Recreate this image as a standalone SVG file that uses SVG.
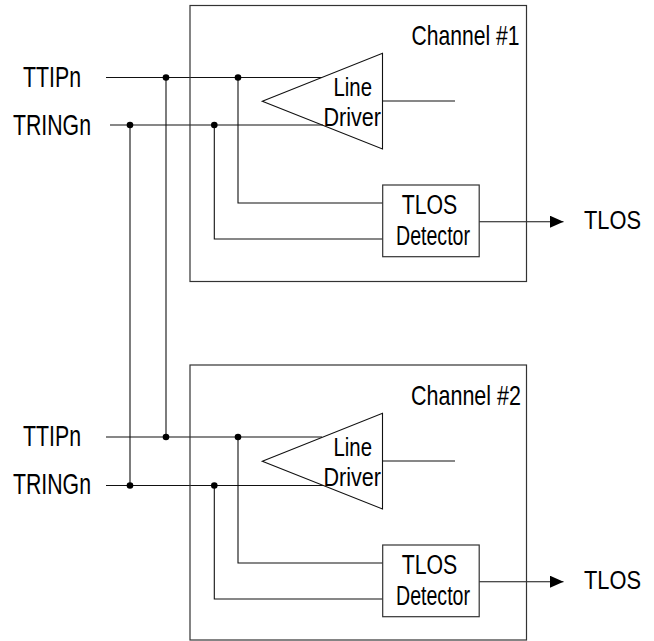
<svg xmlns="http://www.w3.org/2000/svg" width="654" height="641" viewBox="0 0 654 641">
<defs>
<style>
.box{fill:none;stroke:#333;stroke-width:1.2}
.drv{fill:none;stroke:#111;stroke-width:1.1}
.det{fill:#fff;stroke:#333;stroke-width:1.2}
.w{fill:none;stroke:#111;stroke-width:1.1}
.dot{fill:#000}
.t{font-family:"Liberation Sans",Arial,sans-serif;fill:#000}
</style>
<marker id="arr" markerUnits="userSpaceOnUse" markerWidth="14" markerHeight="12" refX="13.5" refY="6" orient="auto">
<path d="M0,0 L13.5,6 L0,12 z" fill="#000"/>
</marker>
</defs>
<rect width="654" height="641" fill="#fff"/>

<g id="connectors">
<path class="w" d="M106,77.5 H322"/>
<path class="w" d="M110,125 H323"/>
<path class="w" d="M238,77.5 V203 H383"/>
<path class="w" d="M214.3,125 V239 H383"/>
<path class="w" d="M382.5,101 H455"/>
<path class="w" d="M479,221.7 H563.5" marker-end="url(#arr)"/>
<path class="w" d="M106,437 H322"/>
<path class="w" d="M106,485.5 H323"/>
<path class="w" d="M238,437 V563 H383"/>
<path class="w" d="M214.3,485.5 V599 H383"/>
<path class="w" d="M382.5,461 H455"/>
<path class="w" d="M479,581.7 H563.5" marker-end="url(#arr)"/>
<path class="w" d="M166,77.5 V437"/>
<path class="w" d="M130,125 V485.5"/>
<circle class="dot" cx="166" cy="77.5" r="3.3"/>
<circle class="dot" cx="238" cy="77.5" r="3.3"/>
<circle class="dot" cx="130" cy="125" r="3.3"/>
<circle class="dot" cx="214.3" cy="125" r="3.3"/>
<circle class="dot" cx="166" cy="437" r="3.3"/>
<circle class="dot" cx="238" cy="437" r="3.3"/>
<circle class="dot" cx="130" cy="485.5" r="3.3"/>
<circle class="dot" cx="214.3" cy="485.5" r="3.3"/>
</g>

<g id="channel1">
<rect class="box" x="190" y="5.5" width="336.5" height="276"/>
<text class="t" x="411.5" y="45" font-size="28" textLength="108" lengthAdjust="spacingAndGlyphs">Channel #1</text>
</g>
<g id="driver1">
<polygon class="drv" points="262.3,101.3 382.5,53.3 382.5,149"/>
<text class="t" x="333.5" y="95.5" font-size="26" textLength="38.5" lengthAdjust="spacingAndGlyphs">Line</text>
<text class="t" x="323.5" y="126" font-size="26" textLength="57.5" lengthAdjust="spacingAndGlyphs">Driver</text>
</g>
<g id="detector1">
<rect class="det" x="382.7" y="185" width="96.5" height="71.7"/>
<text class="t" x="401.7" y="214.3" font-size="27" textLength="55.6" lengthAdjust="spacingAndGlyphs">TLOS</text>
<text class="t" x="396" y="245" font-size="27" textLength="74" lengthAdjust="spacingAndGlyphs">Detector</text>
</g>

<g id="channel2">
<rect class="box" x="190" y="365" width="336.5" height="275"/>
<text class="t" x="411" y="405" font-size="28" textLength="110" lengthAdjust="spacingAndGlyphs">Channel #2</text>
</g>
<g id="driver2">
<polygon class="drv" points="262.3,461.3 382.5,413.3 382.5,509"/>
<text class="t" x="333.5" y="455.5" font-size="26" textLength="38.5" lengthAdjust="spacingAndGlyphs">Line</text>
<text class="t" x="323.5" y="486" font-size="26" textLength="57.5" lengthAdjust="spacingAndGlyphs">Driver</text>
</g>
<g id="detector2">
<rect class="det" x="382.7" y="545" width="96.5" height="71.7"/>
<text class="t" x="401.7" y="574.3" font-size="27" textLength="55.6" lengthAdjust="spacingAndGlyphs">TLOS</text>
<text class="t" x="396" y="605" font-size="27" textLength="74" lengthAdjust="spacingAndGlyphs">Detector</text>
</g>

<g id="pin-ttip1"><text class="t" x="23" y="87" font-size="29" textLength="58" lengthAdjust="spacingAndGlyphs">TTIPn</text></g>
<g id="pin-tring1"><text class="t" x="13" y="134.5" font-size="29" textLength="78" lengthAdjust="spacingAndGlyphs">TRINGn</text></g>
<g id="pin-tlos1"><text class="t" x="584" y="228.5" font-size="26" textLength="57" lengthAdjust="spacingAndGlyphs">TLOS</text></g>
<g id="pin-ttip2"><text class="t" x="23" y="446" font-size="29" textLength="58" lengthAdjust="spacingAndGlyphs">TTIPn</text></g>
<g id="pin-tring2"><text class="t" x="13" y="494" font-size="29" textLength="78" lengthAdjust="spacingAndGlyphs">TRINGn</text></g>
<g id="pin-tlos2"><text class="t" x="584" y="588.5" font-size="26" textLength="57" lengthAdjust="spacingAndGlyphs">TLOS</text></g>
</svg>
